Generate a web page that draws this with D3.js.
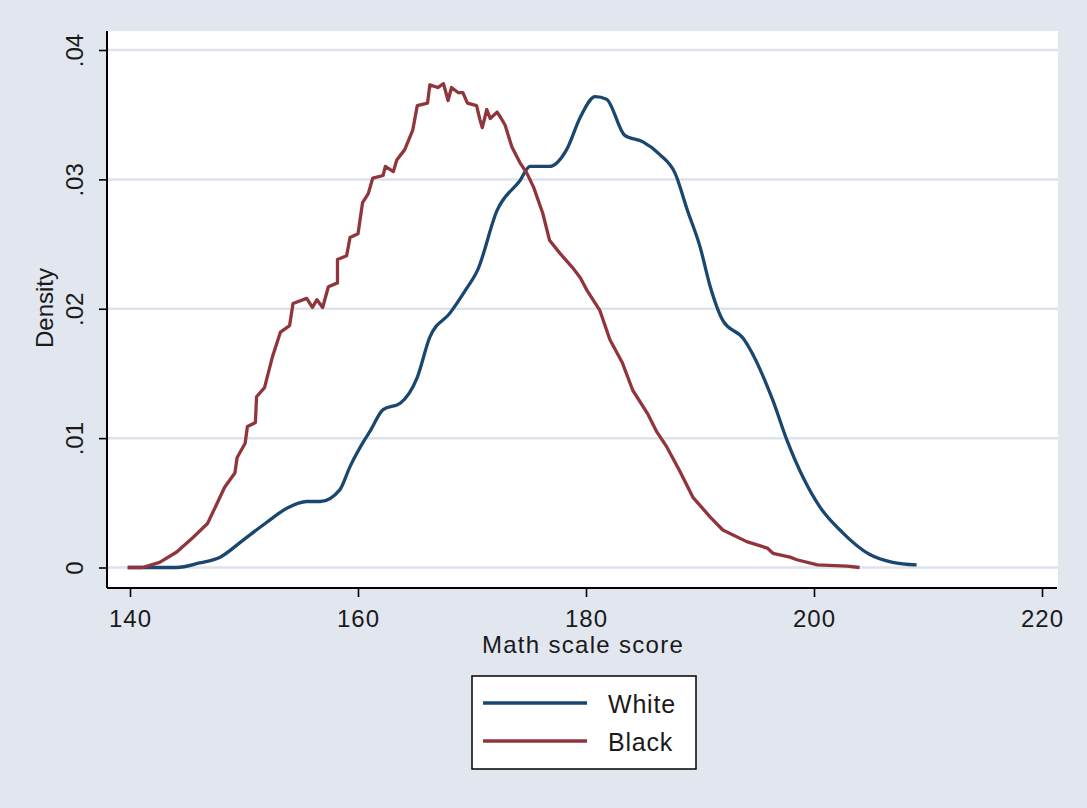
<!doctype html>
<html>
<head>
<meta charset="utf-8">
<title>Math scale score density</title>
<script src="https://d3js.org/d3.v7.min.js"></script>
<style>
  body { margin: 0; background: #e1e6ef; }
  text { font-family: "Liberation Sans", Arial, sans-serif; fill: #1a1a1a; }
</style>
</head>
<body>
<script>
// kernel density estimates: [score, density]
var whiteDensity = [
  [139.8, 0], [144.1, 0], [146.1, 0.00035], [147.9, 0.0008], [149.9, 0.0021],
  [152.0, 0.0035], [153.8, 0.0046], [155.5, 0.0051], [156.7, 0.0051], [158.4, 0.0060],
  [159.3, 0.0078], [160.6, 0.0099], [161.1, 0.0106], [162.2, 0.0122], [163.7, 0.0127],
  [165.2, 0.0147], [166.3, 0.0178], [168.1, 0.0197], [169.4, 0.0214], [170.5, 0.0230],
  [172.2, 0.0276], [174.2, 0.0299], [175.1, 0.0310], [176.8, 0.0310], [178.3, 0.0323],
  [179.5, 0.0348], [180.8, 0.0364], [181.8, 0.0362], [183.4, 0.0334], [185.0, 0.0329],
  [186.5, 0.0319], [187.8, 0.0305], [188.9, 0.0276], [190.0, 0.0248], [190.9, 0.0217],
  [192.0, 0.0191], [193.8, 0.0177], [196.4, 0.0129], [197.6, 0.0099], [200.5, 0.0047],
  [202.5, 0.0027], [204.9, 0.0010], [206.9, 0.0004], [209.0, 0.0002]
];

var blackDensity = [
  [139.8, 0], [141.1, 0], [142.6, 0.0004], [144.1, 0.0012], [145.5, 0.0023],
  [146.8, 0.0034], [147.5, 0.0047], [148.3, 0.0062], [149.2, 0.0073], [149.4, 0.0085],
  [150.1, 0.0096], [150.3, 0.0109], [151.0, 0.0112], [151.1, 0.0132], [151.8, 0.0139],
  [152.5, 0.0163], [153.2, 0.0182], [154.0, 0.0187], [154.3, 0.0204], [155.5, 0.0208],
  [156.0, 0.0201], [156.4, 0.0207], [156.9, 0.0201], [157.4, 0.0217], [158.2, 0.0220],
  [158.2, 0.0238], [159.0, 0.0241], [159.3, 0.0255], [160.0, 0.0258], [160.4, 0.0282],
  [160.9, 0.0289], [161.3, 0.0301], [162.2, 0.0303], [162.4, 0.0310], [163.1, 0.0306],
  [163.4, 0.0315], [164.1, 0.0323], [164.8, 0.0338], [165.2, 0.0357], [166.1, 0.0359],
  [166.3, 0.0373], [167.0, 0.0371], [167.5, 0.0374], [167.9, 0.0361], [168.2, 0.0371],
  [168.8, 0.0367], [169.2, 0.0367], [169.6, 0.0359], [170.4, 0.0357], [170.7, 0.0346],
  [170.9, 0.0340], [171.3, 0.0354], [171.6, 0.0347], [172.2, 0.0352], [172.5, 0.0348],
  [172.9, 0.0342], [173.5, 0.0325], [174.2, 0.0313], [174.8, 0.0305], [175.4, 0.0294],
  [176.2, 0.0274], [176.8, 0.0253], [177.7, 0.0243], [178.8, 0.0232], [179.5, 0.0224],
  [180.1, 0.0214], [181.2, 0.0199], [182.1, 0.0176], [183.2, 0.0158], [184.1, 0.0137],
  [185.4, 0.0119], [186.2, 0.0105], [187.1, 0.0093], [188.2, 0.0075], [189.4, 0.0054],
  [190.9, 0.0039], [192.0, 0.0029], [194.1, 0.0020], [195.9, 0.0015], [196.4, 0.0011],
  [197.9, 0.0008], [198.5, 0.0006], [200.3, 0.0002], [202.9, 0.0001], [204.0, 0]
];

var xTicks = [140, 160, 180, 200, 220];
var yTicks = [0, 0.01, 0.02, 0.03, 0.04];
var yTickLabels = ["0", ".01", ".02", ".03", ".04"];
var seriesNames = ["White", "Black"];
var seriesColors = ["#1a476f", "#90353b"];

var width = 1087, height = 808;
var plotBox = {left: 107, top: 31, right: 1058, bottom: 589};

var svg = d3.select("body").append("svg")
    .attr("width", width)
    .attr("height", height);

svg.append("rect")
    .attr("width", width).attr("height", height)
    .attr("fill", "#e1e6ef");

svg.append("rect")
    .attr("x", plotBox.left).attr("y", plotBox.top)
    .attr("width", plotBox.right - plotBox.left)
    .attr("height", plotBox.bottom - plotBox.top)
    .attr("fill", "#ffffff");

var x = d3.scaleLinear().domain([140, 220]).range([130, 1042]);
var y = d3.scaleLinear().domain([0, 0.04]).range([567.5, 50]);

// grid lines
svg.append("g").selectAll("line")
    .data(yTicks)
    .enter().append("line")
    .attr("x1", plotBox.left + 1).attr("x2", plotBox.right)
    .attr("y1", d => y(d)).attr("y2", d => y(d))
    .attr("stroke", "#dde2eb")
    .attr("stroke-width", 2.5);

// density curves (white is smooth, black is jagged)
var smoothLine = d3.line()
    .x(d => x(d[0]))
    .y(d => y(d[1]))
    .curve(d3.curveMonotoneX);
var roughLine = d3.line()
    .x(d => x(d[0]))
    .y(d => y(d[1]));

[whiteDensity, blackDensity].forEach(function(series, i) {
  svg.append("path")
      .datum(series)
      .attr("d", i === 0 ? smoothLine : roughLine)
      .attr("fill", "none")
      .attr("stroke", seriesColors[i])
      .attr("stroke-width", 3.3)
      .attr("stroke-linejoin", "round");
});

// y axis
var yAxis = svg.append("g")
    .attr("transform", "translate(" + plotBox.left + ",0)")
    .call(d3.axisLeft(y).tickValues(yTicks)
      .tickSize(8).tickSizeOuter(0)
      .tickFormat((d, i) => yTickLabels[i]));
yAxis.select(".domain").remove();
yAxis.selectAll(".tick line").attr("stroke", "#000").attr("stroke-width", 1.6);
yAxis.selectAll(".tick text")
    .attr("transform", "rotate(-90)")
    .attr("x", 0).attr("y", -24).attr("dy", 0)
    .attr("text-anchor", "middle")
    .style("font-size", "24px")
    .style("font-family", "'Liberation Sans', Arial, sans-serif")
    .attr("fill", "#1a1a1a");

// x axis
var xAxis = svg.append("g")
    .attr("transform", "translate(0," + (plotBox.bottom - 1) + ")")
    .call(d3.axisBottom(x).tickValues(xTicks)
      .tickSize(9).tickSizeOuter(0).tickPadding(13)
      .tickFormat(d3.format("d")));
xAxis.select(".domain").remove();
xAxis.selectAll(".tick line").attr("stroke", "#000").attr("stroke-width", 1.6);
xAxis.selectAll(".tick text")
    .style("font-size", "24px")
    .style("font-family", "'Liberation Sans', Arial, sans-serif")
    .style("letter-spacing", "1px")
    .attr("fill", "#1a1a1a");

// axis lines
svg.append("line")
    .attr("x1", plotBox.left).attr("x2", plotBox.left)
    .attr("y1", plotBox.top).attr("y2", plotBox.bottom - 1)
    .attr("stroke", "#000").attr("stroke-width", 2);
svg.append("line")
    .attr("x1", plotBox.left).attr("x2", plotBox.right - 1)
    .attr("y1", plotBox.bottom - 1).attr("y2", plotBox.bottom - 1)
    .attr("stroke", "#000").attr("stroke-width", 2);

// axis titles
svg.append("text")
    .attr("x", 583).attr("y", 653)
    .attr("text-anchor", "middle")
    .style("font-size", "24px")
    .style("letter-spacing", "1.3px")
    .text("Math scale score");

svg.append("text")
    .attr("transform", "translate(53,308) rotate(-90)")
    .attr("text-anchor", "middle")
    .style("font-size", "24px")
    .text("Density");

// legend
var legend = svg.append("g");
legend.append("rect")
    .attr("x", 472).attr("y", 676)
    .attr("width", 224).attr("height", 93)
    .attr("fill", "#fff")
    .attr("stroke", "#000")
    .attr("stroke-width", 1.5);

var rows = legend.selectAll("g.row")
    .data(seriesNames)
    .enter().append("g")
    .attr("class", "row")
    .attr("transform", (d, i) => "translate(0," + (703 + i * 38) + ")");

rows.append("line")
    .attr("x1", 483).attr("x2", 587)
    .attr("stroke", (d, i) => seriesColors[i])
    .attr("stroke-width", 3.3);

rows.append("text")
    .attr("x", 608).attr("y", 10)
    .style("font-size", "25px")
    .style("letter-spacing", "0.8px")
    .text(d => d);
</script>
</body>
</html>
